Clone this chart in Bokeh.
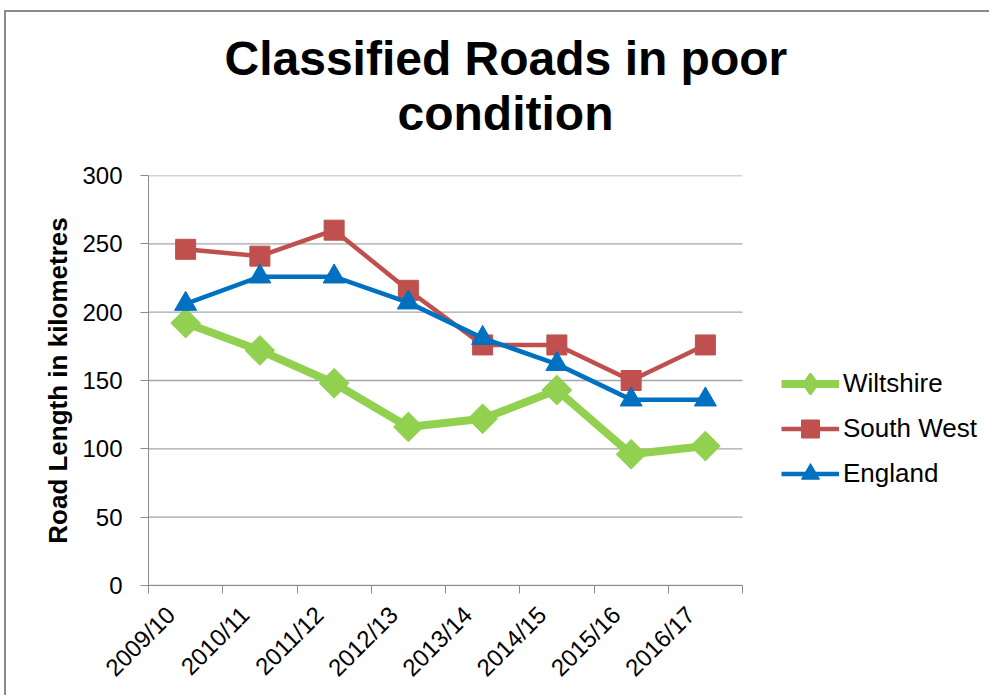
from math import pi
from bokeh.plotting import figure
from bokeh.models import FixedTicker, Legend, LegendItem, Range1d, Title
from bokeh.embed import file_html
from bokeh.resources import INLINE

# ---- data ----
categories = ["2009/10", "2010/11", "2011/12", "2012/13",
              "2013/14", "2014/15", "2015/16", "2016/17"]
wiltshire = [192, 172, 148, 116, 122, 143, 96, 102]
south_west = [246, 241, 260, 216, 176, 176, 150, 176]
england = [206, 226, 226, 207, 181, 162, 136, 136]
y_ticks = [0, 50, 100, 150, 200, 250, 300]
series_names = ["Wiltshire", "South West", "England"]

N = len(categories)
# category centres on a numeric axis (boundaries at integers)
xc = [i + 0.5 for i in range(N)]
bounds = list(range(N + 1))
LABEL_SHIFT = -0.2  # rotated labels end a little left of the centre
xl = [x + LABEL_SHIFT for x in xc]

FONT = "Liberation Sans"
GREEN = "#92D050"
RED = "#C0504D"
BLUE = "#0070C0"
GRAY = "#8c8c8c"

# layout (pixels)
W, H = 985, 685
LEFT, RIGHT, TOP, BOTTOM = 142, 2, 163, H - 573
PLOT_W = 594                      # width of the category area
FRAME_W = W - LEFT - RIGHT
x_end = N * FRAME_W / PLOT_W      # frame is extended to host the legend

p = figure(width=W, height=H, output_backend="svg", toolbar_location=None,
           x_range=Range1d(0, x_end), y_range=Range1d(0, 300),
           min_border_left=LEFT, min_border_right=RIGHT,
           min_border_top=TOP, min_border_bottom=BOTTOM,
           background_fill_color="white", border_fill_color="white")
p.outline_line_color = None
p.styles = {"border-left": "2px solid #8a8a8a", "border-top": "2px solid #8a8a8a",
            "margin-left": "4px", "margin-top": "10px"}

# titles (first added sits closest to the frame)
spacer = Title(text=" ", text_font_size="2px", standoff=32)
t2 = Title(text="condition", align="left", offset=249, standoff=0,
           text_font=FONT, text_font_size="48px", text_font_style="bold",
           text_color="black")
t1 = Title(text="Classified Roads in poor", align="left", offset=76, standoff=0,
           text_font=FONT, text_font_size="48px", text_font_style="bold",
           text_color="black")
p.add_layout(spacer, "above")
p.add_layout(t2, "above")
p.add_layout(t1, "above")

# axes
p.xaxis.bounds = (0, N)
p.xaxis.ticker = FixedTicker(ticks=xl, minor_ticks=bounds)
p.xaxis.major_label_overrides = {x: c for x, c in zip(xl, categories)}
p.xaxis.major_label_orientation = pi / 4
p.xaxis.major_tick_line_color = None
p.xaxis.minor_tick_line_color = GRAY
p.xaxis.minor_tick_out = 8
p.xaxis.minor_tick_in = 0
p.xaxis.axis_line_color = GRAY
p.xaxis.major_label_text_font = FONT
p.xaxis.major_label_text_font_size = "24px"
p.xaxis.major_label_text_color = "black"
p.xaxis.major_label_standoff = 17

p.yaxis.ticker = FixedTicker(ticks=y_ticks)
p.yaxis.minor_tick_line_color = None
p.yaxis.major_tick_line_color = GRAY
p.yaxis.major_tick_out = 8
p.yaxis.major_tick_in = 0
p.yaxis.axis_line_color = GRAY
p.yaxis.major_label_text_font = FONT
p.yaxis.major_label_text_font_size = "24px"
p.yaxis.major_label_text_color = "black"
p.yaxis.major_label_standoff = 18
p.yaxis.axis_label = "Road Length in kilometres"
p.yaxis.axis_label_text_font = FONT
p.yaxis.axis_label_text_font_size = "26px"
p.yaxis.axis_label_text_font_style = "bold"
p.yaxis.axis_label_text_color = "black"
p.yaxis.axis_label_standoff = 6

# horizontal gridlines only across the category area
p.xgrid.grid_line_color = None
p.ygrid.grid_line_color = None
p.segment(x0=[0] * len(y_ticks), x1=[N] * len(y_ticks), y0=y_ticks, y1=y_ticks,
          line_color="#a6a6a6", line_width=1.3)

# series
l1 = p.line(xc, wiltshire, line_color=GREEN, line_width=8)
# upright diamond (hidden under the plot markers) used as the legend key
key1 = p.scatter(xc, wiltshire, marker="diamond", size=22, line_width=4,
                 line_join="round", fill_color=GREEN, line_color=GREEN)
m1 = p.scatter(xc, wiltshire, marker="square", angle=pi / 4, size=21,
               fill_color=GREEN, line_color=GREEN)
l2 = p.line(xc, south_west, line_color=RED, line_width=4.5)
m2 = p.scatter(xc, south_west, marker="square", size=20,
               fill_color=RED, line_color=RED)
l3 = p.line(xc, england, line_color=BLUE, line_width=4.5)
m3 = p.scatter(xc, england, marker="triangle", size=22,
               fill_color=BLUE, line_color=BLUE)

legend = Legend(items=[
    LegendItem(label=series_names[0], renderers=[l1, key1]),
    LegendItem(label=series_names[1], renderers=[l2, m2]),
    LegendItem(label=series_names[2], renderers=[l3, m3]),
], location=(633, 89))
legend.padding = 0
legend.margin = 0
legend.spacing = 0
legend.glyph_width = 58
legend.glyph_height = 45
legend.label_height = 45
legend.label_standoff = 4
legend.border_line_color = None
legend.background_fill_alpha = 0
legend.label_text_font = FONT
legend.label_text_font_size = "26px"
legend.label_text_color = "black"
p.add_layout(legend, "center")

open("out.html", "w").write(file_html(p, INLINE))
